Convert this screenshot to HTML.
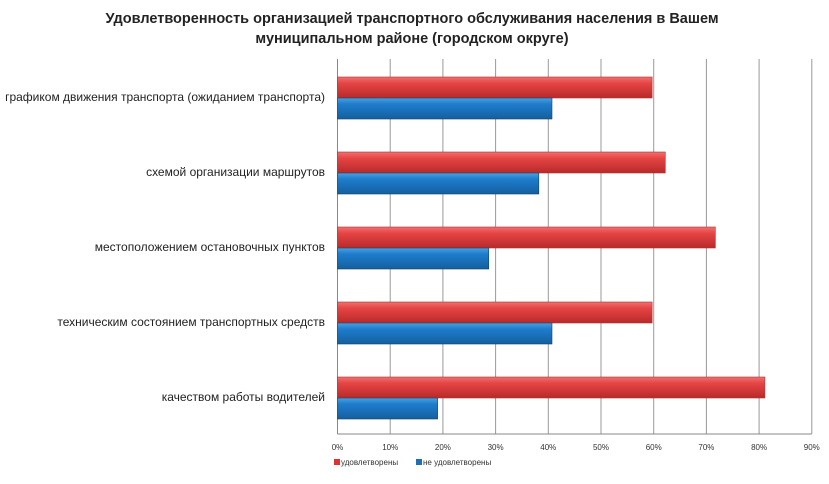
<!DOCTYPE html>
<html><head><meta charset="utf-8"><style>
body{margin:0;background:#fff;}
svg text{font-family:"Liberation Sans","DejaVu Sans",sans-serif;}
</style></head><body>
<svg width="829" height="479" xmlns="http://www.w3.org/2000/svg">
<defs>
<linearGradient id="gr" x1="0" y1="0" x2="0" y2="1"><stop offset="0" stop-color="#f07070"/><stop offset="0.3" stop-color="#e64444"/><stop offset="1" stop-color="#b82a2a"/></linearGradient>
<linearGradient id="gb" x1="0" y1="0" x2="0" y2="1"><stop offset="0" stop-color="#4aa0e0"/><stop offset="0.3" stop-color="#1e7ccc"/><stop offset="1" stop-color="#155f9e"/></linearGradient>
</defs>
<text x="412" y="23" text-anchor="middle" font-size="14.5" font-weight="bold" fill="#222">Удовлетворенность организацией транспортного обслуживания  населения в Вашем</text>
<text x="412" y="43" text-anchor="middle" font-size="14.5" font-weight="bold" fill="#222">муниципальном районе (городском округе)</text>
<g id="grid"></g><g id="bars"></g><g id="labels"></g>
<g>
<rect x="334" y="459" width="6" height="6" fill="#d33"/>
<text x="341" y="465" font-size="8" fill="#333">удовлетворены</text>
<rect x="416" y="459" width="6" height="6" fill="#1e6fb8"/>
<text x="423" y="465" font-size="8" fill="#333">не удовлетворены</text>
</g>
</svg>
<script>
const categories=["графиком движения транспорта (ожиданием транспорта)","схемой организации маршрутов","местоположением остановочных пунктов","техническим состоянием транспортных средств","качеством работы водителей"];
const satisfied=[59.7,62.2,71.7,59.7,81.1];
const unsatisfied=[40.7,38.2,28.7,40.7,19.0];
const ticks=[0,10,20,30,40,50,60,70,80,90];
const ns="http://www.w3.org/2000/svg";
const x0=337.5,pxPer=5.27,plotTop=59,plotBottom=434,band=75;
const X=v=>x0+v*pxPer;
function mk(t,a,p){const e=document.createElementNS(ns,t);for(const k in a)e.setAttribute(k,a[k]);p.appendChild(e);return e;}
const g=document.getElementById('grid'),b=document.getElementById('bars'),l=document.getElementById('labels');
ticks.forEach(t=>{
 const ln=mk('line',{x1:X(t),x2:X(t),y1:plotTop,y2:plotBottom,stroke:t===0?'#888':'#999','stroke-width':1},g);
 
 
 const tx=mk('text',{x:X(t),y:450,'font-size':8,'text-anchor':'middle',fill:'#333'},g);
 tx.textContent=t+'%';
 
 
});
mk('line',{x1:x0,x2:X(90),y1:plotBottom,y2:plotBottom,stroke:'#888'},g);
categories.forEach((c,i)=>{
 const y=plotTop+band*i;
 const r=mk('rect',{x:x0,y:y+18,width:X(satisfied[i])-x0,height:21,fill:'url(#gr)',stroke:'#a33','stroke-width':0.6},b);
 
 
 const u=mk('rect',{x:x0,y:y+39,width:X(unsatisfied[i])-x0,height:21,fill:'url(#gb)',stroke:'#146','stroke-width':0.6},b);
 
 
 const t=mk('text',{x:325,y:y+42,'font-size':12,'text-anchor':'end',fill:'#222'},l);
 t.textContent=c;
 
 
});
</script>
</body></html>
